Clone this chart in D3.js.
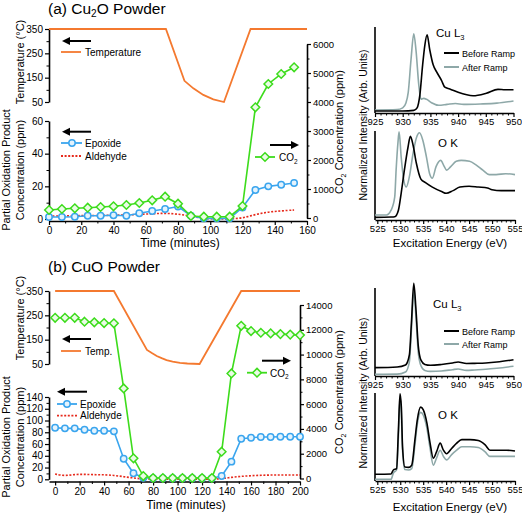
<!DOCTYPE html>
<html><head><meta charset="utf-8">
<script src="https://cdn.jsdelivr.net/npm/d3@7"></script>
<style>body{margin:0;background:#fff}</style>
</head><body><script>
// ---------------- DATA ----------------
// Panel (a) Cu2O powder
const timeA = [0,8,16,24,32,40,48,56,64,72,80,88,96,104,112,120,128,136,144,152];
const epoxideA = [1.2,1.2,1.4,2,2,2.3,2,3.5,4.9,6.1,7.6,2,0.4,0.4,0.4,7,17.8,20,21,22];
const aldehydeA = [1.8,1.9,2.0,2.1,2.2,2.3,2.5,2.8,3.2,3.6,3.0,1.8,0.2,0,0,0.5,2.8,4.3,5.0,5.5];
const co2A = [276,310,334,355,379,403,448,517,610,735,493,69,45,45,45,414,3817,4621,4966,5196];
const tempTimeA = [0,72.5,84,89.5,95.7,101.9,108.5,125,160];
const tempValA = [350,350,137,106,79,61,50,350,350];
// Panel (b) CuO powder
const timeB = [0,8,16,24,32,40,48,56,64,72,80,88,96,104,112,120,128,136,144,152,160,168,176,184,192,200];
const epoxideB = [87.8,86.7,86.7,84.4,82.7,82.7,81.6,35,10.2,2.7,1.7,1.7,1.7,1.7,1.7,1.7,1.7,5.6,30,69,70.7,71.9,71.9,72.4,72.4,72.4];
const aldehydeB = [9,5.6,8.5,8.5,7.8,7.8,6.8,4.4,2.2,0.5,0,0,0,0,0,0,0,1,3.4,5.1,6.1,6.8,7.3,7.3,7.3,7.3];
const co2B = [12970,12970,12970,12650,12600,12540,12520,7270,1630,200,40,40,40,40,40,40,40,2160,8480,12320,11900,11760,11710,11650,11610,11570];
const tempTimeB = [0,48,75,79,83,87,91,96,102,108,118,152,200];
const tempValB = [350,350,108,95,83,74,66,60,55,52,50,350,350];
// Tick labels
const tempTicks = [50,150,250,350];
const prodTicksA = [0,20,40,60];
const prodTicksB = [0,20,40,60,80,100,120,140];
const co2TicksA = [0,1000,2000,3000,4000,5000,6000];
const co2TicksB = [0,2000,4000,6000,8000,10000,12000,14000];
const timeTicksA = [0,20,40,60,80,100,120,140,160];
const timeTicksB = [0,20,40,60,80,100,120,140,160,180,200];
const cuTicks = [925,930,935,940,945,950];
const oTicks = [525,530,535,540,545,550,555];
// XAS spectra (normalized intensity, arb. units)
const cuEA_before = [925,930,932,932.6,933.1,933.6,934,934.4,934.9,935.5,936.1,937,937.6,938.5,940,942.7,945.1,947.2,948.5,950];
const cuIA_before = [0.023,0.023,0.03,0.06,0.21,0.56,0.79,0.91,0.73,0.56,0.48,0.38,0.30,0.28,0.24,0.20,0.23,0.275,0.27,0.27];
const cuEA_after = [925,929,930,930.6,931,931.5,932,932.4,932.9,933.3,933.8,934.3,935.2,936.5,938,939.5,941,944,947,950];
const cuIA_after = [0.035,0.04,0.06,0.12,0.24,0.62,0.92,0.73,0.33,0.16,0.17,0.16,0.12,0.09,0.10,0.11,0.10,0.105,0.115,0.14];
const oEA_before = [524.5,528,528.8,529.6,530.2,530.9,531.7,532.2,532.8,533.5,534.5,535.5,537,539,540,541.5,543,545,547,549,550,552,555];
const oIA_before = [0.03,0.034,0.037,0.11,0.30,0.56,0.82,0.94,0.84,0.64,0.46,0.42,0.37,0.32,0.30,0.33,0.37,0.38,0.37,0.36,0.34,0.33,0.33];
const oEA_after = [524.5,527,528,528.8,529.1,529.5,529.75,530.2,530.7,531.3,532,532.8,533.5,534.2,534.9,535.7,536.4,537,537.8,538.8,539.6,540.1,541,542.2,543.3,545.1,546.5,548,549.4,550.9,553,555];
const oIA_after = [0.056,0.056,0.11,0.26,0.56,0.87,0.99,0.71,0.47,0.37,0.49,0.75,0.92,0.98,0.90,0.71,0.52,0.47,0.60,0.67,0.60,0.56,0.60,0.66,0.67,0.66,0.62,0.56,0.51,0.51,0.52,0.51];
const cuEB = [925,929,930.5,931.2,931.6,932,932.4,932.8,933.3,934,935,937,939,940,941.5,943,945,947,950];
const cuIB_before = [0.09,0.097,0.118,0.226,0.60,0.997,0.71,0.33,0.17,0.124,0.115,0.124,0.14,0.15,0.134,0.136,0.14,0.15,0.175];
const cuIB_after = [0.018,0.02,0.043,0.15,0.52,0.92,0.63,0.26,0.11,0.06,0.05,0.054,0.068,0.075,0.06,0.065,0.072,0.083,0.104];
const oEB = [524.5,528,528.5,529.2,529.6,529.95,530.24,530.5,531.0,531.8,532.5,533.2,533.7,534.45,535.0,535.8,536.5,537.2,537.9,538.7,539.4,540.1,541.2,542.3,543.4,545.2,547.0,548.5,549.55,551.0,553.2,555];
const oIB_before = [0.076,0.08,0.125,0.14,0.58,0.99,0.84,0.39,0.16,0.155,0.18,0.47,0.69,0.84,0.81,0.66,0.43,0.26,0.33,0.43,0.35,0.31,0.37,0.43,0.47,0.47,0.46,0.41,0.35,0.35,0.35,0.34];
const oIB_after = [0.02,0.02,0.09,0.125,0.5,0.94,0.77,0.35,0.13,0.125,0.14,0.41,0.64,0.78,0.75,0.60,0.37,0.18,0.26,0.35,0.28,0.24,0.30,0.35,0.39,0.39,0.38,0.33,0.28,0.28,0.28,0.28];

// ---------------- STYLE ----------------
const FF = "'Liberation Sans', Arial, Helvetica, sans-serif";
const COL = {temp:"#f4792f", co2:"#3ddc1c", epox:"#3aa5ee", ald:"#e62a1c", before:"#000000", after:"#8ea8a8"};

const svg = d3.select("body").append("svg").attr("width",522).attr("height",514);

function styleAxis(g, fs){
  g.attr("font-family",FF);
  g.select(".domain").attr("stroke","#000").attr("stroke-width",1.6);
  g.selectAll(".tick line").attr("stroke","#000").attr("stroke-width",1.2);
  g.selectAll(".tick text").attr("font-size",fs).attr("fill","#000").attr("font-family",FF);
  return g;
}
function minor(axisFn, scale, vals, size, x, y){
  const g = svg.append("g").attr("transform",`translate(${x},${y})`)
    .call(axisFn(scale).tickValues(vals).tickSize(size).tickFormat(""));
  g.select(".domain").remove();
  g.selectAll(".tick line").attr("stroke","#000").attr("stroke-width",1);
}
function text(x,y,s,fs,opt={}){
  const t = svg.append("text").attr("x",x).attr("y",y).attr("font-family",FF)
    .attr("font-size",fs).attr("fill","#000");
  if(opt.anchor) t.attr("text-anchor",opt.anchor);
  if(opt.rot) t.attr("transform",`rotate(-90,${x},${y})`);
  if(s!==null) t.text(s);
  return t;
}
function subText(t, parts, fs){
  let shifted = false;
  parts.forEach(([s,sub])=>{
    const ts = t.append("tspan").text(s);
    if(sub){ ts.attr("font-size",fs*0.65).attr("dy",fs*0.25); shifted = true; }
    else if(shifted){ ts.attr("dy",-fs*0.25); shifted=false; }
  });
}
function arrow(xTail, xHead, y){
  const dir = xHead < xTail ? -1 : 1;
  svg.append("line").attr("x1",xTail).attr("y1",y).attr("x2",xHead-dir*5).attr("y2",y)
    .attr("stroke","#000").attr("stroke-width",2);
  svg.append("path").attr("d",`M${xHead},${y}L${xHead-dir*8},${y-4}L${xHead-dir*8},${y+4}Z`).attr("fill","#000");
}
const diamond = "M0,-4.3L4.3,0L0,4.3L-4.3,0Z";
function drawCircles(xs, ys, x, y){
  svg.append("g").selectAll("circle").data(xs).join("circle")
    .attr("cx",(d)=>x(d)).attr("cy",(d,i)=>y(ys[i])).attr("r",3.2)
    .attr("fill","#e4f3fd").attr("stroke",COL.epox).attr("stroke-width",1.5);
}
function drawDiamonds(xs, ys, x, y){
  svg.append("g").selectAll("path").data(xs).join("path")
    .attr("d",diamond).attr("transform",(d,i)=>`translate(${x(d)},${y(ys[i])})`)
    .attr("fill","#eafbe6").attr("stroke",COL.co2).attr("stroke-width",1.5);
}
function drawLine(xs, ys, x, y, color, opt={}){
  const line = d3.line().x(d=>x(d[0])).y(d=>y(d[1])).curve(opt.curve||d3.curveLinear);
  const p = svg.append("path").datum(xs.map((v,i)=>[v,ys[i]])).attr("d",line)
    .attr("fill","none").attr("stroke",color).attr("stroke-width",opt.w||1.6);
  if(opt.dash) p.attr("stroke-dasharray",opt.dash);
  return p;
}

// ---------------- KINETICS PANEL ----------------
function kinetics(P){
  const {x,yT,yP,yC} = P;
  styleAxis(svg.append("g").attr("transform",`translate(${P.axL},0)`)
    .call(d3.axisLeft(yT).tickValues(tempTicks).tickSize(4).tickSizeOuter(0).tickPadding(2)),10);
  minor(d3.axisLeft, yT, [100,200,300], 2.5, P.axL, 0);
  styleAxis(svg.append("g").attr("transform",`translate(${P.axL},0)`)
    .call(d3.axisLeft(yP).tickValues(P.prodTicks).tickSize(4).tickSizeOuter(0).tickPadding(2)),10);
  minor(d3.axisLeft, yP, P.prodMinor, 2.5, P.axL, 0);
  styleAxis(svg.append("g").attr("transform",`translate(${P.axR},0)`)
    .call(d3.axisRight(yC).tickValues(P.co2Ticks).tickFormat(d3.format("d")).tickSize(4).tickSizeOuter(0).tickPadding(2)),9.5);
  minor(d3.axisRight, yC, P.co2Minor, 2.5, P.axR, 0);
  styleAxis(svg.append("g").attr("transform",`translate(0,${P.axB})`)
    .call(d3.axisBottom(x).tickValues(P.timeTicks).tickSize(4).tickSizeOuter(0).tickPadding(2)),10);
  minor(d3.axisBottom, x, P.timeMinor, 2.5, 0, P.axB);

  drawLine(P.tempT, P.tempV, x, yT, COL.temp, {w:1.8});
  drawLine(P.t, P.ald, x, yP, COL.ald, {curve:d3.curveBasis, dash:"2,1.6", w:1.6});
  drawLine(P.t, P.epox, x, yP, COL.epox, {w:1.6});
  drawCircles(P.t, P.epox, x, yP);
  drawLine(P.t, P.co2, x, yC, COL.co2, {w:1.6});
  drawDiamonds(P.t, P.co2, x, yC);
}

// ---------------- XAS PANEL ----------------
function xas(P){
  const x = d3.scaleLinear().domain(P.dom).range([375, P.xR]);
  const y = d3.scaleLinear().domain([0,1]).range([P.bot, P.topVal]);
  svg.append("line").attr("x1",375).attr("x2",375).attr("y1",P.axTop).attr("y2",P.bot)
    .attr("stroke","#000").attr("stroke-width",1.6);
  styleAxis(svg.append("g").attr("transform",`translate(0,${P.bot})`)
    .call(d3.axisBottom(x).tickValues(P.ticks).tickSize(4).tickSizeOuter(0).tickPadding(1.5)),9.5);
  minor(d3.axisBottom, x, d3.range(P.ticks[0],P.ticks[P.ticks.length-1]+0.1,1).filter(v=>!P.ticks.includes(v)), 2.5, 0, P.bot);
  drawLine(P.eA, P.iA, x, y, COL.after, {curve:d3.curveMonotoneX, w:1.6});
  drawLine(P.eB, P.iB, x, y, COL.before, {curve:d3.curveMonotoneX, w:1.6});
}

// Panel (a)
const xa = d3.scaleLinear().domain([0,160]).range([49,307]);
kinetics({x:xa, yT:d3.scaleLinear().domain([50,350]).range([102,29]),
  yP:d3.scaleLinear().domain([0,60]).range([219,121]),
  yC:d3.scaleLinear().domain([0,6000]).range([218,44]),
  axL:49, axR:307, axB:221,
  prodTicks:prodTicksA, prodMinor:[10,30,50], co2Ticks:co2TicksA, co2Minor:[500,1500,2500,3500,4500,5500],
  timeTicks:timeTicksA, timeMinor:[10,30,50,70,90,110,130,150],
  t:timeA, epox:epoxideA, ald:aldehydeA, co2:co2A, tempT:tempTimeA, tempV:tempValA});

// Panel (b)
const xb = d3.scaleLinear().domain([-5,200]).range([49,300]);
kinetics({x:xb, yT:d3.scaleLinear().domain([50,350]).range([364,291]),
  yP:d3.scaleLinear().domain([0,140]).range([479.3,397]),
  yC:d3.scaleLinear().domain([0,14000]).range([478.5,305]),
  axL:49, axR:300, axB:481.5,
  prodTicks:prodTicksB, prodMinor:[10,30,50,70,90,110,130], co2Ticks:co2TicksB, co2Minor:[1000,3000,5000,7000,9000,11000,13000],
  timeTicks:timeTicksB, timeMinor:[10,30,50,70,90,110,130,150,170,190],
  t:timeB, epox:epoxideB, ald:aldehydeB, co2:co2B, tempT:tempTimeB, tempV:tempValB});

// XAS
xas({dom:[925,950], xR:513.5, bot:113, topVal:27, axTop:27, ticks:cuTicks, eA:cuEA_after, iA:cuIA_after, eB:cuEA_before, iB:cuIA_before});
xas({dom:[524.5,555], xR:515, bot:220, topVal:131, axTop:131, ticks:oTicks, eA:oEA_after, iA:oIA_after, eB:oEA_before, iB:oIA_before});
xas({dom:[925,950], xR:513.5, bot:376, topVal:283, axTop:288, ticks:cuTicks, eA:cuEB, iA:cuIB_after, eB:cuEB, iB:cuIB_before});
xas({dom:[524.5,555], xR:515, bot:481, topVal:393, axTop:393, ticks:oTicks, eA:oEB, iA:oIB_after, eB:oEB, iB:oIB_before});

// ---------------- TEXT / LEGENDS ----------------
subText(text(48,13.5,null,15.5), [["(a) Cu",0],["2",1],["O Powder",0]], 15.5);
text(48,272,"(b) CuO Powder",15.5);

text(24,62,"Temperature (°C)",11,{anchor:"middle",rot:true});
text(10,170,"Partial Oxidation Product",11,{anchor:"middle",rot:true});
text(24,170,"Concentration (ppm)",11,{anchor:"middle",rot:true});
text(24,318,"Temperature (°C)",11,{anchor:"middle",rot:true});
text(10,437,"Partial Oxidation Product",11,{anchor:"middle",rot:true});
text(24,437,"Concentration (ppm)",11,{anchor:"middle",rot:true});
subText(text(343,132,null,11,{anchor:"middle",rot:true}), [["CO",0],["2",1],[" Concentration (ppm)",0]], 11);
subText(text(343,392,null,11,{anchor:"middle",rot:true}), [["CO",0],["2",1],[" Concentration (ppm)",0]], 11);
text(180,247,"Time (minutes)",12,{anchor:"middle"});
text(186,509,"Time (minutes)",12,{anchor:"middle"});
text(367,125,"Normalized Intensity (Arb. Units)",10.5,{anchor:"middle",rot:true});
text(367,393,"Normalized Intensity (Arb. Units)",10.5,{anchor:"middle",rot:true});
text(450,247,"Excitation Energy (eV)",11.5,{anchor:"middle"});
text(450,511,"Excitation Energy (eV)",11.5,{anchor:"middle"});
subText(text(436,37,null,11.5), [["Cu L",0],["3",1]], 11.5);
text(438,147,"O K",11.5);
subText(text(433,308,null,11.5), [["Cu L",0],["3",1]], 11.5);
text(438,419,"O K",11.5);

function xasLegend(y1,y2){
  svg.append("line").attr("x1",444).attr("x2",459).attr("y1",y1).attr("y2",y1).attr("stroke",COL.before).attr("stroke-width",2);
  text(462,y1+3.5,"Before Ramp",9);
  svg.append("line").attr("x1",444).attr("x2",459).attr("y1",y2).attr("y2",y2).attr("stroke",COL.after).attr("stroke-width",2);
  text(462,y2+3.5,"After Ramp",9);
}
xasLegend(53,67);
xasLegend(331,344);

function legLine(x1,x2,y,color,dash){
  const l = svg.append("line").attr("x1",x1).attr("x2",x2).attr("y1",y).attr("y2",y).attr("stroke",color).attr("stroke-width",1.8);
  if(dash) l.attr("stroke-dasharray",dash);
}
function legCircle(cx,cy){ svg.append("circle").attr("cx",cx).attr("cy",cy).attr("r",3.2).attr("fill","#e4f3fd").attr("stroke",COL.epox).attr("stroke-width",1.5); }
function legDiamond(cx,cy){ svg.append("path").attr("d",diamond).attr("transform",`translate(${cx},${cy})`).attr("fill","#eafbe6").attr("stroke",COL.co2).attr("stroke-width",1.5); }

// (a)
arrow(91,62,41);
legLine(61,81,52,COL.temp); text(85,55.5,"Temperature",10);
arrow(91,62,131.7);
legLine(61,82,143,COL.epox); legCircle(72,143); text(85,146.5,"Epoxide",10);
legLine(61,81,156,COL.ald,"2,1.6"); text(85,159.5,"Aldehyde",10);
arrow(270,299,145);
legLine(255,275,157,COL.co2); legDiamond(265,157);
subText(text(279,161,null,10), [["CO",0],["2",1]], 10);
// (b)
arrow(91,62,339);
legLine(61,81,351,COL.temp); text(85,354.5,"Temp.",10);
arrow(87,57,391.7);
legLine(57,77,404,COL.epox); legCircle(67,404); text(80,407.5,"Epoxide",10);
legLine(57,77,415.7,COL.ald,"2,1.6"); text(80,419.2,"Aldehyde",10);
arrow(262,291,360.7);
legLine(247,267,372.7,COL.co2); legDiamond(257,372.7);
subText(text(270,376.5,null,10), [["CO",0],["2",1]], 10);
</script></body></html>
